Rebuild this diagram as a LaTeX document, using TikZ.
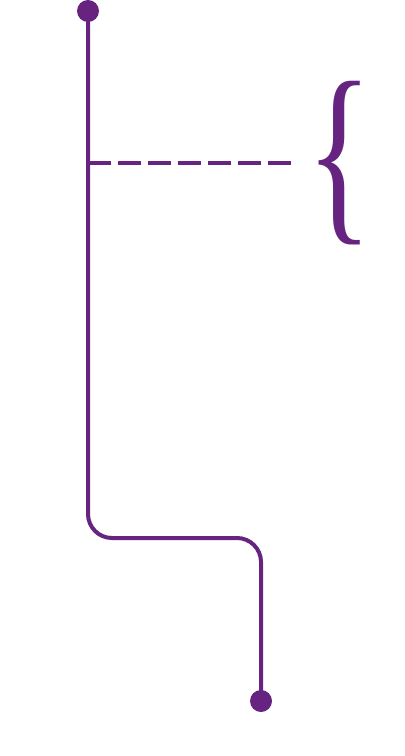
\documentclass[tikz,border=0pt]{standalone}
\usepackage{fontspec}
\setmainfont{Liberation Serif}
\definecolor{timeline}{RGB}{102,36,128}
\tikzset{
    enddot/.style={circle, fill=timeline, inner sep=0pt, minimum size=16.5pt},
    track/.style={timeline, line width=3pt, rounded corners=18pt},
    marker/.style={timeline, line width=3.5pt, dash pattern=on 17pt off 5.5pt},
}
\begin{document}
\begin{tikzpicture}[x=0.75pt,y=-0.75pt]
    \useasboundingbox (0,0) rectangle (404,756);

    % Start and end of the track
    \node (start) at (88,11) [enddot] {};
    \node (finish) at (261,701) [enddot] {};
    \coordinate (bend) at (261,538);
    \coordinate (branch) at (88,163);
    \coordinate (tip) at (293,163);

    % Main track with the jog at the bottom
    \draw[track] (start.center) |- (bend) -- (finish.center);

    % Dashed marker and brace
    \draw[marker] (branch) -- (tip);
    \node (brace) at (340,163) [text=timeline, inner sep=0pt]
        {\scalebox{0.74}[1.06]{\fontsize{140}{140}\selectfont\{}};
\end{tikzpicture}
\end{document}
